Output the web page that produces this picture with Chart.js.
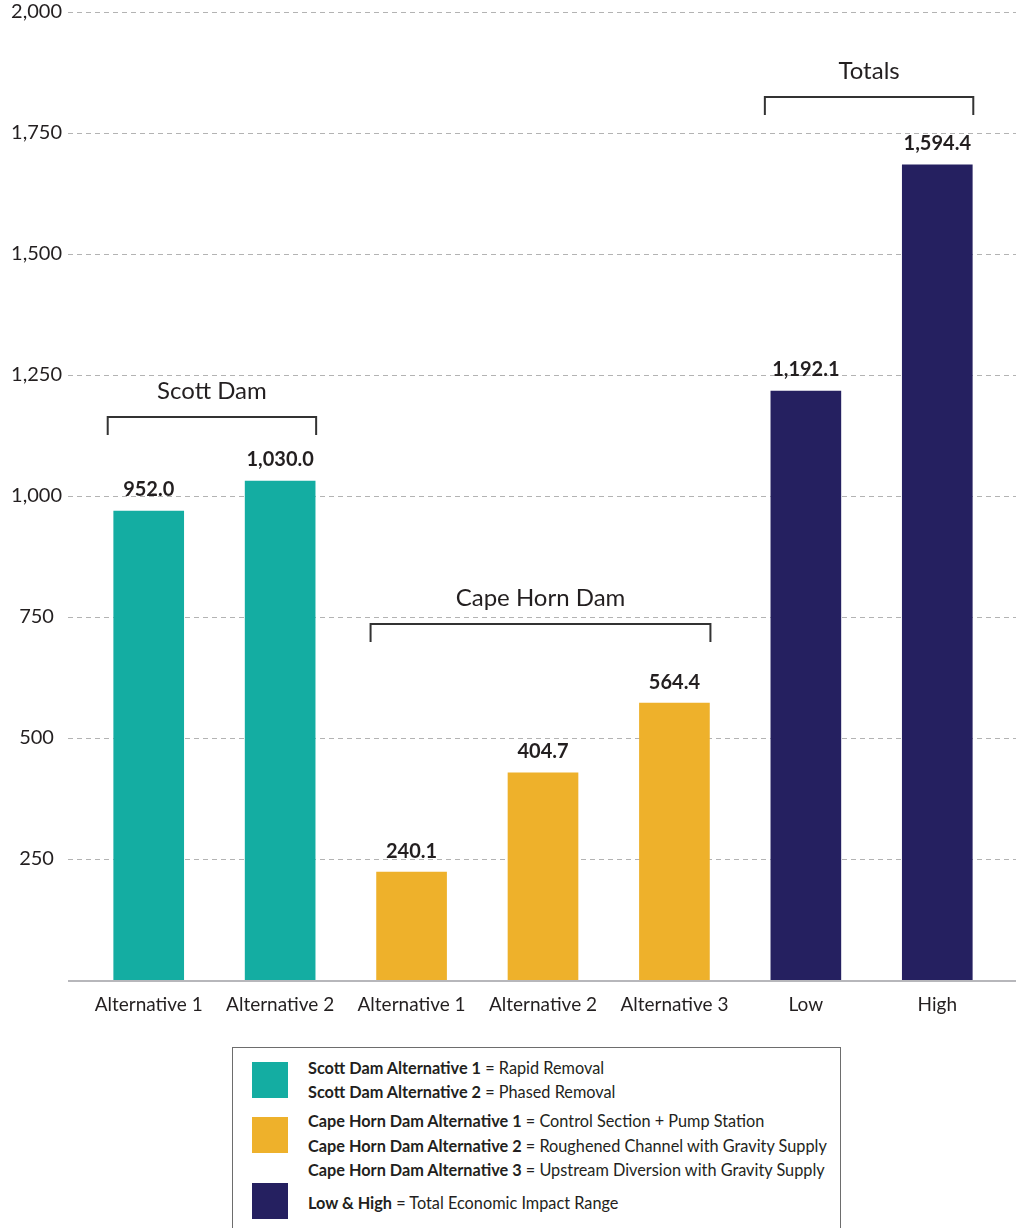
<!DOCTYPE html>
<html>
<head>
<meta charset="utf-8">
<script src="https://cdn.jsdelivr.net/npm/chart.js@4"></script>
<style>
  html, body { margin: 0; padding: 0; background: #fff; width: 1016px; height: 1228px; overflow: hidden; }
  #wrap { position: absolute; left: 0; top: 0; width: 1016px; height: 1030px; }
  #legend { position: absolute; left: 232px; top: 1047px; width: 607px; height: 220px; border: 1px solid #6d6d6d; box-sizing: content-box; font-family: Lato, "Noto Sans", sans-serif; color: #231f20; }
  .sw { position: absolute; left: 19px; width: 36px; height: 36px; }
  .ln { position: absolute; left: 75px; height: 20px; line-height: 20px; font-size: 16.3px; white-space: nowrap; }
  .ln b { font-weight: 700; }
</style>
</head>
<body>
<div id="wrap"><canvas id="c" width="1016" height="1030"></canvas></div>
<div id="legend"></div>
<script>
// ---- data ----
const categories = ["Alternative 1", "Alternative 2", "Alternative 1", "Alternative 2", "Alternative 3", "Low", "High"];
const barValues = [969, 1031, 223, 428, 572, 1217, 1684];           // heights
const valueLabels = ["952.0", "1,030.0", "240.1", "404.7", "564.4", "1,192.1", "1,594.4"]; // printed labels
const barColors = ["#14ada2", "#14ada2", "#eeb12b", "#eeb12b", "#eeb12b", "#252060", "#252060"];
const yTicks = [0, 250, 500, 750, 1000, 1250, 1500, 1750, 2000];
const groupNames = ["Scott Dam", "Cape Horn Dam", "Totals"];
const groupFirst = [0, 2, 5];
const groupLast = [1, 4, 6];
const groupLevel = [1163, 736, 1824];
const legendColors = ["#14ada2", "#eeb12b", "#252060"];
const legendBold = ["Scott Dam Alternative 1", "Scott Dam Alternative 2", "Cape Horn Dam Alternative 1", "Cape Horn Dam Alternative 2", "Cape Horn Dam Alternative 3", "Low & High"];
const legendText = ["Rapid Removal", "Phased Removal", "Control Section + Pump Station", "Roughened Channel with Gravity Supply", "Upstream Diversion with Gravity Supply", "Total Economic Impact Range"];

const FONT = 'Lato, "Noto Sans", sans-serif';
const TEXT = '#231f20';

// ---- legend (HTML) ----
const lg = document.getElementById('legend');
const swTops = [14, 69, 135];
legendColors.forEach((c, i) => {
  const d = document.createElement('div'); d.className = 'sw'; d.style.background = c; d.style.top = swTops[i] + 'px'; lg.appendChild(d);
});
const lnCenters = [20, 44, 73, 98, 122, 155];
legendBold.forEach((b, i) => {
  const d = document.createElement('div'); d.className = 'ln'; d.style.top = (lnCenters[i] - 10) + 'px';
  const s = document.createElement('b'); s.textContent = b; d.appendChild(s);
  d.appendChild(document.createTextNode(' = ' + legendText[i]));
  lg.appendChild(d);
});

// ---- plugins ----
const gridPlugin = {
  id: 'dashGrid',
  beforeDatasetsDraw(chart) {
    const ctx = chart.ctx, y = chart.scales.y;
    const x0 = chart.chartArea.left - 15, x1 = chart.width;
    ctx.save();
    ctx.lineWidth = 1; ctx.strokeStyle = '#b3b3b3'; ctx.setLineDash([5, 4]);
    y.ticks.forEach(t => {
      if (t.value === 0) return;
      const py = Math.round(y.getPixelForValue(t.value)) + 0.5;
      ctx.beginPath(); ctx.moveTo(x0, py); ctx.lineTo(x1, py); ctx.stroke();
    });
    ctx.setLineDash([]);
    ctx.lineWidth = 2; ctx.strokeStyle = '#b7b7bb';
    const p0 = y.getPixelForValue(0) + 1;
    ctx.beginPath(); ctx.moveTo(x0, p0); ctx.lineTo(x1, p0); ctx.stroke();
    ctx.restore();
  }
};

const labelPlugin = {
  id: 'labels',
  afterDatasetsDraw(chart) {
    const ctx = chart.ctx, y = chart.scales.y;
    const bars = chart.getDatasetMeta(0).data;
    ctx.save();
    ctx.fillStyle = TEXT; ctx.textAlign = 'center'; ctx.textBaseline = 'middle';
    ctx.font = 'bold 20px ' + FONT;
    bars.forEach((b, i) => { ctx.fillText(valueLabels[i], b.x, b.y - 21); });
    // group brackets
    ctx.strokeStyle = '#333'; ctx.lineWidth = 2;
    groupNames.forEach((g, i) => {
      const a = bars[groupFirst[i]], z = bars[groupLast[i]];
      const xl = a.x - a.width / 2 - 6, xr = z.x + z.width / 2 + 1;
      const py = Math.round(y.getPixelForValue(groupLevel[i]));
      ctx.beginPath(); ctx.moveTo(xl, py + 18); ctx.lineTo(xl, py); ctx.lineTo(xr, py); ctx.lineTo(xr, py + 18); ctx.stroke();
      ctx.font = '24px ' + FONT;
      ctx.fillText(g, (xl + xr) / 2, py - 26);
    });
    ctx.restore();
  }
};

new Chart(document.getElementById('c'), {
  type: 'bar',
  data: {
    labels: categories,
    datasets: [{ data: barValues, backgroundColor: barColors, barThickness: 70, borderWidth: 0 }]
  },
  options: {
    responsive: false,
    animation: false,
    devicePixelRatio: 1,
    layout: { padding: { top: 12, right: 13, left: 0, bottom: 0 } },
    plugins: { legend: { display: false }, tooltip: { enabled: false } },
    scales: {
      x: {
        offset: true,
        grid: { display: false, drawTicks: false },
        border: { display: false },
        ticks: { color: TEXT, font: { family: FONT, size: 19 }, padding: 13, maxRotation: 0, autoSkip: false },
        afterFit(s) { s.height = 50; s.paddingLeft = 0; s.paddingRight = 0; }
      },
      y: {
        min: 0, max: 2000,
        afterBuildTicks(s) { s.ticks = yTicks.map(v => ({ value: v })); },
        grid: { display: false, drawTicks: false },
        border: { display: false },
        ticks: {
          color: TEXT, font: { family: FONT, size: 20 }, crossAlign: 'center', padding: 21,
          callback: v => v === 0 ? null : v.toLocaleString('en-US')
        },
        afterFit(s) { s.width = 83; s.paddingTop = 0; s.paddingBottom = 0; }
      }
    }
  },
  plugins: [gridPlugin, labelPlugin]
});
</script>
</body>
</html>
